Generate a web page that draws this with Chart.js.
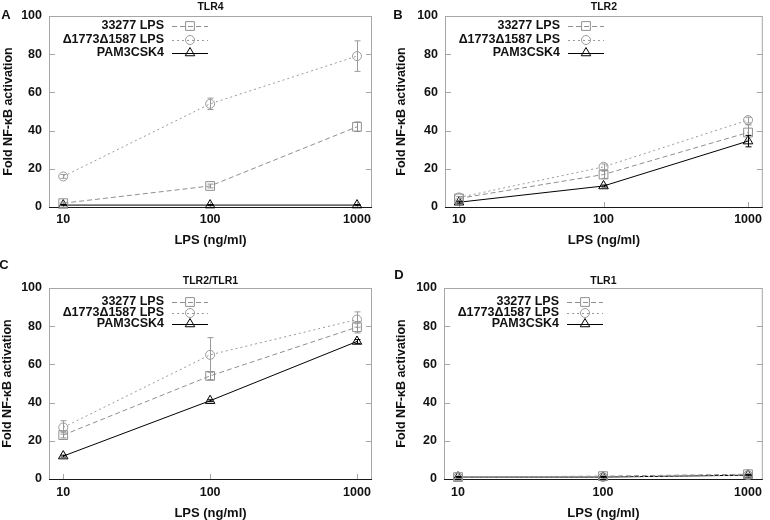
<!DOCTYPE html>
<html>
<head>
<meta charset="utf-8">
<script src="https://cdn.jsdelivr.net/npm/chart.js@4.4.0/dist/chart.umd.min.js"></script>
<style>
  html, body { margin: 0; padding: 0; background: #fff; }
  #wrap { position: relative; width: 770px; height: 520px; }
  .panel { position: absolute; width: 385px; height: 260px; }
</style>
</head>
<body>
<div id="wrap">
  <div class="panel" style="left:0;top:0"><canvas id="chartA" width="385" height="260"></canvas></div>
  <div class="panel" style="left:385px;top:0"><canvas id="chartB" width="385" height="260"></canvas></div>
  <div class="panel" style="left:0;top:260px"><canvas id="chartC" width="385" height="260"></canvas></div>
  <div class="panel" style="left:385px;top:260px"><canvas id="chartD" width="385" height="260"></canvas></div>
</div>
<script>
// ---- Data ----
const doses = [10, 100, 1000];          // LPS ng/ml
const doseTicks = [10, 100, 1000];
const yTicks = [0, 20, 40, 60, 80, 100];
const seriesNames = ['33277 LPS', '\u03941773\u03941587 LPS', 'PAM3CSK4'];

// TLR4
const tlr4Wt     = [2, 11, 42];
const tlr4WtErr  = [0.5, 1, 2.5];
const tlr4Mut    = [16, 54, 79];
const tlr4MutErr = [1, 3, 8];
const tlr4Pam    = [1, 1, 1];
const tlr4PamErr = [0.3, 0.3, 0.3];

// TLR2
const tlr2Wt     = [4.5, 17, 39];
const tlr2WtErr  = [1, 2, 4];
const tlr2Mut    = [5, 21, 45.5];
const tlr2MutErr = [0.5, 1.5, 1.5];
const tlr2Pam    = [2.5, 11, 34.5];
const tlr2PamErr = [0.5, 0.5, 3];

// TLR2/TLR1
const tlr21Wt     = [23, 54, 79.5];
const tlr21WtErr  = [1.5, 2, 3];
const tlr21Mut    = [27, 65, 83.5];
const tlr21MutErr = [3.5, 9, 4];
const tlr21Pam    = [12, 41, 72];
const tlr21PamErr = [0.5, 0.5, 1];

// TLR1
const tlr1Wt     = [1, 1.5, 2.5];
const tlr1WtErr  = [0.5, 0.5, 0.5];
const tlr1Mut    = [1, 1, 2];
const tlr1MutErr = [0.5, 0.5, 0.5];
const tlr1Pam    = [1, 1, 2];
const tlr1PamErr = [0.3, 0.3, 0.3];

const xMin = 8, xMax = 1265;

// ---- Panel layout ----
const panels = [
  { id: 'chartA', letter: 'A', title: 'TLR4', data: [tlr4Wt, tlr4Mut, tlr4Pam], errs: [tlr4WtErr, tlr4MutErr, tlr4PamErr],
    area: { left: 49, right: 372, top: 16, bottom: 207 }, titleY: 7, letterXY: [6, 15],
    tickPad: 5, xTitlePad: 13, yTitlePad: 2, keyRows: [10, 24, 37] },
  { id: 'chartB', letter: 'B', title: 'TLR2', data: [tlr2Wt, tlr2Mut, tlr2Pam], errs: [tlr2WtErr, tlr2MutErr, tlr2PamErr],
    area: { left: 60, right: 383, top: 16, bottom: 207 }, titleY: 7, letterXY: [13, 15],
    tickPad: 5, xTitlePad: 13, yTitlePad: 10, keyRows: [10, 24, 37] },
  { id: 'chartC', letter: 'C', title: 'TLR2/TLR1', data: [tlr21Wt, tlr21Mut, tlr21Pam], errs: [tlr21WtErr, tlr21MutErr, tlr21PamErr],
    area: { left: 49, right: 372, top: 28, bottom: 219 }, titleY: 21, letterXY: [4, 5],
    tickPad: 6.5, xTitlePad: 0, yTitlePad: 1.5, keyRows: [14, 25, 36] },
  { id: 'chartD', letter: 'D', title: 'TLR1', data: [tlr1Wt, tlr1Mut, tlr1Pam], errs: [tlr1WtErr, tlr1MutErr, tlr1PamErr],
    area: { left: 59, right: 383, top: 28, bottom: 219 }, titleY: 21, letterXY: [14, 15],
    tickPad: 6.5, xTitlePad: 0, yTitlePad: 10, keyRows: [14, 25, 36] },
];

const seriesStyles = [
  { color: '#8f8f8f', dash: [5, 3], pointStyle: 'rect', radius: 6.2 },
  { color: '#9a9a9a', dash: [2, 3], pointStyle: 'circle', radius: 4.5 },
  { color: '#000000', dash: [], pointStyle: 'triangle', radius: 5.5 },
];

const FONT = '"Liberation Sans", Arial, Helvetica, sans-serif';
Chart.defaults.font.family = FONT;
Chart.defaults.font.weight = 'bold';
Chart.defaults.color = '#111';

// frame with inward ticks, gnuplot style
const framePlugin = {
  id: 'frame',
  beforeDatasetsDraw(chart) {
    const { ctx, chartArea: a, scales: { x, y } } = chart;
    ctx.save();
    ctx.lineWidth = 1;
    ctx.strokeStyle = '#a6a6a6';
    ctx.strokeRect(a.left + 0.5, a.top + 0.5, a.right - a.left - 1, a.bottom - a.top);
    ctx.beginPath();
    yTicks.forEach(v => {
      if (v === 0 || v === 100) return;
      const py = Math.round(y.getPixelForValue(v)) + 0.5;
      ctx.moveTo(a.left, py); ctx.lineTo(a.left + 6, py);
      ctx.moveTo(a.right, py); ctx.lineTo(a.right - 6, py);
    });
    doseTicks.forEach(v => {
      const px = Math.round(x.getPixelForValue(v)) + 0.5;
      ctx.moveTo(px, a.bottom); ctx.lineTo(px, a.bottom - 5);
    });
    ctx.stroke();
    ctx.strokeStyle = '#1a1a1a';
    ctx.beginPath();
    ctx.moveTo(a.left, a.bottom + 0.5);
    ctx.lineTo(a.right, a.bottom + 0.5);
    ctx.stroke();
    ctx.restore();
  }
};

const errorBarPlugin = {
  id: 'errorBars',
  afterDatasetsDraw(chart) {
    const { ctx, scales: { x, y } } = chart;
    ctx.save();
    ctx.lineWidth = 1;
    chart.data.datasets.forEach(ds => {
      ctx.strokeStyle = ds.borderColor;
      ds.data.forEach((p, i) => {
        const e = ds.errors[i];
        const px = Math.round(x.getPixelForValue(p.x)) + 0.5;
        const t = y.getPixelForValue(p.y + e), b = y.getPixelForValue(Math.max(p.y - e, 0));
        ctx.beginPath();
        ctx.moveTo(px, t); ctx.lineTo(px, b);
        ctx.moveTo(px - 3, t); ctx.lineTo(px + 3, t);
        ctx.moveTo(px - 3, b); ctx.lineTo(px + 3, b);
        ctx.stroke();
      });
    });
    ctx.restore();
  }
};

// key drawn like the original: label right-aligned, then line sample
const keyPlugin = {
  id: 'key',
  afterDraw(chart, args, opts) {
    const { ctx, chartArea: a } = chart;
    ctx.save();
    ctx.font = 'bold 12.5px ' + FONT;
    ctx.textAlign = 'right';
    ctx.textBaseline = 'middle';
    chart.data.datasets.forEach((ds, i) => {
      const ry = a.top + opts.rows[i];
      ctx.fillStyle = '#111';
      ctx.fillText(ds.label, a.left + 115, ry);
      ctx.strokeStyle = ds.borderColor;
      ctx.lineWidth = 1;
      ctx.setLineDash(ds.borderDash);
      ctx.beginPath();
      ctx.moveTo(a.left + 123, Math.round(ry) + 0.5);
      ctx.lineTo(a.left + 159, Math.round(ry) + 0.5);
      ctx.stroke();
      ctx.setLineDash([]);
      ctx.fillStyle = 'rgba(0,0,0,0)';
      Chart.helpers.drawPoint(ctx, { pointStyle: ds.pointStyle, radius: ds.pointRadius, rotation: 0, borderWidth: 1 }, a.left + 141, ry);
    });
    // panel letter
    ctx.fillStyle = '#111';
    ctx.font = 'bold 13px ' + FONT;
    ctx.textAlign = 'center';
    ctx.fillText(opts.letter, opts.letterXY[0], opts.letterXY[1]);
    ctx.restore();
  }
};

panels.forEach(p => {
  const datasets = seriesNames.map((name, i) => ({
    label: name,
    data: doses.map((d, j) => ({ x: d, y: p.data[i][j] })),
    errors: p.errs[i],
    borderColor: seriesStyles[i].color,
    backgroundColor: 'rgba(0,0,0,0)',
    borderWidth: 1,
    borderDash: seriesStyles[i].dash,
    pointStyle: seriesStyles[i].pointStyle,
    pointRadius: seriesStyles[i].radius,
    pointBorderWidth: 1,
    pointBorderColor: seriesStyles[i].color,
    pointBackgroundColor: 'rgba(0,0,0,0)',
    tension: 0,
    clip: false,
  }));

  const titleLH = 10.5 * 1.2;
  const titleTop = p.titleY - titleLH / 2;

  new Chart(document.getElementById(p.id), {
    type: 'line',
    data: { datasets },
    plugins: [framePlugin, errorBarPlugin, keyPlugin],
    options: {
      responsive: false,
      animation: false,
      events: [],
      layout: { padding: { left: 0, top: 0, right: 385 - p.area.right, bottom: 0 } },
      plugins: {
        legend: { display: false },
        tooltip: { enabled: false },
        title: {
          display: true,
          text: p.title,
          fullSize: false,
          color: '#111',
          font: { size: 10.5, weight: 'bold', lineHeight: 1.2 },
          padding: { top: titleTop, bottom: p.area.top - titleTop - titleLH },
        },
        key: { rows: p.keyRows, letter: p.letter, letterXY: p.letterXY },
      },
      scales: {
        x: {
          type: 'logarithmic',
          min: xMin,
          max: xMax,
          afterBuildTicks: s => { s.ticks = doseTicks.map(v => ({ value: v })); },
          afterFit: s => { s.height = 260 - p.area.bottom; },
          grid: { display: false, drawTicks: false },
          border: { display: false },
          ticks: { padding: p.tickPad, autoSkip: false, maxRotation: 0, color: '#111',
                   font: { size: 12.5, weight: 'bold' }, callback: v => String(v) },
          title: { display: true, text: 'LPS (ng/ml)', color: '#111',
                   font: { size: 13, weight: 'bold', lineHeight: 1 }, padding: { top: 0, bottom: p.xTitlePad } },
        },
        y: {
          min: 0,
          max: 100,
          afterBuildTicks: s => { s.ticks = yTicks.map(v => ({ value: v })); },
          afterFit: s => { s.width = p.area.left; },
          grid: { display: false, drawTicks: false },
          border: { display: false },
          ticks: { padding: 7, color: '#111', font: { size: 12.5, weight: 'bold' } },
          title: { display: true, text: 'Fold NF-\u03baB activation', color: '#111',
                   font: { size: 12.5, weight: 'bold', lineHeight: 1 }, padding: { top: p.yTitlePad, bottom: 0 } },
        },
      },
    },
  });
});
</script>
</body>
</html>
